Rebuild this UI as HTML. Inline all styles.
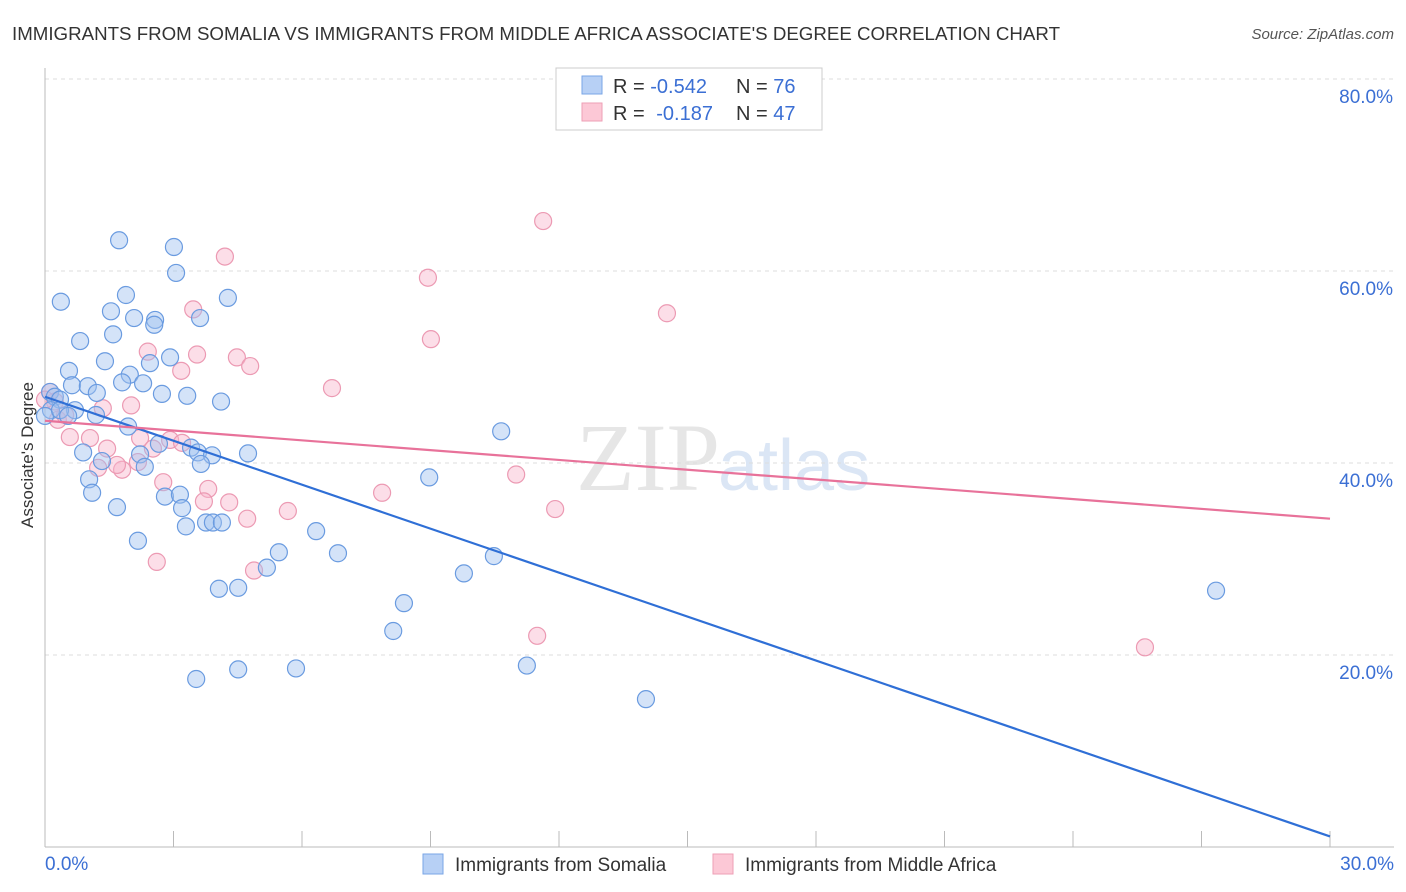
<!DOCTYPE html>
<html><head><meta charset="utf-8"><style>
body{margin:0;background:#fff;font-family:"Liberation Sans",sans-serif;}
svg{display:block}
</style></head><body>
<svg id="chart" width="1406" height="892" xmlns="http://www.w3.org/2000/svg">
<text x="12" y="40" font-size="18" fill="#333" textLength="1048" lengthAdjust="spacingAndGlyphs">IMMIGRANTS FROM SOMALIA VS IMMIGRANTS FROM MIDDLE AFRICA ASSOCIATE'S DEGREE CORRELATION CHART</text>
<text x="1394" y="39" font-size="15" fill="#555" font-style="italic" text-anchor="end">Source: ZipAtlas.com</text>
<text x="720" y="490" font-size="96" fill="#e6e6e6" text-anchor="end" font-family="Liberation Serif">ZIP</text>
<text x="718" y="490" font-size="72" fill="#dbe6f5">atlas</text>
<g id="grid"></g>
<g id="axes"></g>
<text transform="translate(33,455) rotate(-90)" font-size="17" fill="#333" text-anchor="middle">Associate's Degree</text>
<g id="pts"></g>
<g id="trend"></g>
<g>
<rect x="556" y="68" width="266" height="62" fill="#fff" stroke="#ccc"/>
<rect x="582" y="76" width="20" height="18" fill="#b7d0f5" stroke="#7aa6e6"/>
<rect x="582" y="103" width="20" height="18" fill="#fcc8d6" stroke="#ee9fb6"/>
<text x="613" y="93" font-size="20" fill="#333">R = <tspan fill="#3b6fd4">-0.542</tspan></text>
<text x="736" y="93" font-size="20" fill="#333">N = <tspan fill="#3b6fd4">76</tspan></text>
<text x="613" y="120" font-size="20" fill="#333">R = <tspan fill="#3b6fd4" dx="6">-0.187</tspan></text>
<text x="736" y="120" font-size="20" fill="#333">N = <tspan fill="#3b6fd4">47</tspan></text>
</g>
<g>
<rect x="423" y="854" width="20" height="20" fill="#b7d0f5" stroke="#7aa6e6"/>
<text x="455" y="871" font-size="19" fill="#333">Immigrants from Somalia</text>
<rect x="713" y="854" width="20" height="20" fill="#fcc8d6" stroke="#ee9fb6"/>
<text x="745" y="871" font-size="19" fill="#333">Immigrants from Middle Africa</text>
</g>
</svg>
<script>
const blueX=[1.73,3.01,3.06,0.37,1.89,4.27,1.54,2.08,2.57,2.55,3.62,1.59,0.82,2.92,1.40,2.45,0.56,1.98,1.80,2.29,0.63,1.00,1.21,3.32,2.73,4.11,0.12,0.23,0.35,0.70,1.19,1.94,10.65,2.66,3.41,3.57,4.74,2.22,3.90,0.89,1.33,2.33,3.64,8.97,1.03,1.10,2.80,3.15,3.20,1.68,3.29,3.76,3.92,4.13,6.33,2.17,5.46,6.84,10.48,5.18,9.78,4.06,4.51,8.38,27.34,8.13,11.25,5.86,4.51,3.53,14.03,0.14,0.0,0.35,0.54];
const blueY=[63.2,62.5,59.8,56.8,57.5,57.2,55.8,55.1,54.9,54.4,55.1,53.4,52.7,51.0,50.6,50.4,49.6,49.2,48.4,48.3,48.1,48.0,47.3,47.0,47.2,46.4,47.4,46.9,46.6,45.5,45.0,43.8,43.3,42.0,41.6,41.1,41.0,40.9,40.8,41.1,40.2,39.6,39.9,38.5,38.3,36.9,36.5,36.7,35.3,35.4,33.4,33.8,33.8,33.8,32.9,31.9,30.7,30.6,30.3,29.1,28.5,26.9,27.0,25.4,26.7,22.5,18.9,18.6,18.5,17.5,15.4,45.5,44.9,45.5,44.9];
const pinkX=[11.63,4.20,8.94,3.46,14.52,9.01,2.40,3.55,4.48,4.79,3.18,6.70,0.12,1.35,2.01,0.30,1.05,0.58,2.22,2.92,1.45,2.52,3.20,2.17,1.80,1.24,1.68,2.76,3.81,4.30,7.87,3.71,11.0,11.91,5.67,4.72,2.61,4.88,11.49,25.68,0.23,0.47,0.0];
const pinkY=[65.2,61.5,59.3,56.0,55.6,52.9,51.6,51.3,51.0,50.1,49.6,47.8,47.4,45.7,46.0,44.5,42.6,42.7,42.6,42.4,41.5,41.5,42.1,40.1,39.3,39.5,39.8,38.0,37.3,35.9,36.9,36.0,38.8,35.2,35.0,34.2,29.7,28.8,22.0,20.8,46.4,45.0,46.6];
const trendX=[0,30];
const blueTrend=[46.9,1.1];
const pinkTrend=[44.4,34.2];
const yTicks=[20,40,60,80];
const yTickLabels=["20.0%","40.0%","60.0%","80.0%"];
const xTicks=[0,3,6,9,12,15,18,21,24,27,30];

const NS="http://www.w3.org/2000/svg";
function sx(v){return 45+v*(1285/30);}
function sy(v){return 847-v*9.6;}
function mk(tag,attrs,parent){const e=document.createElementNS(NS,tag);for(const k in attrs)e.setAttribute(k,attrs[k]);parent.appendChild(e);return e;}
const grid=document.getElementById('grid'),axes=document.getElementById('axes'),pts=document.getElementById('pts'),trend=document.getElementById('trend');
yTicks.forEach((t,i)=>{
  const l=mk('line',{x1:45,x2:1394,y1:sy(t),y2:sy(t),stroke:'#ddd','stroke-dasharray':'4,4'},grid);
  
  
  const tx=mk('text',{x:1393,y:sy(t)+24,'font-size':19,fill:'#3b6fd4','text-anchor':'end'},axes);
  tx.textContent=yTickLabels[i];
  
  
});
const ya=mk('line',{x1:45,x2:45,y1:68,y2:847,stroke:'#bbb'},axes);


const xa=mk('line',{x1:45,x2:1394,y1:847,y2:847,stroke:'#bbb'},axes);


xTicks.forEach(t=>{
  const l=mk('line',{x1:sx(t),x2:sx(t),y1:831,y2:847,stroke:'#bbb'},axes);
  
  
});
const xl0=mk('text',{x:45,y:870,'font-size':19,fill:'#3b6fd4'},axes);
xl0.textContent='0.0%';


const xl1=mk('text',{x:1394,y:870,'font-size':19,fill:'#3b6fd4','text-anchor':'end'},axes);
xl1.textContent='30.0%';


pinkX.forEach((x,i)=>{
  const c=mk('circle',{cx:sx(x),cy:sy(pinkY[i]),r:8.5,fill:'rgba(248,182,204,0.45)',stroke:'#ec9ab3','stroke-width':1.2},pts);
  
  
});
blueX.forEach((x,i)=>{
  const c=mk('circle',{cx:sx(x),cy:sy(blueY[i]),r:8.5,fill:'rgba(160,194,240,0.45)',stroke:'#6a9be0','stroke-width':1.2},pts);
  
  
});
const tb=mk('line',{x1:sx(trendX[0]),y1:sy(blueTrend[0]),x2:sx(trendX[1]),y2:sy(blueTrend[1]),stroke:'#2f6fd6','stroke-width':2.2},trend);


const tp=mk('line',{x1:sx(trendX[0]),y1:sy(pinkTrend[0]),x2:sx(trendX[1]),y2:sy(pinkTrend[1]),stroke:'#e8729a','stroke-width':2.2},trend);


</script>
</body></html>
